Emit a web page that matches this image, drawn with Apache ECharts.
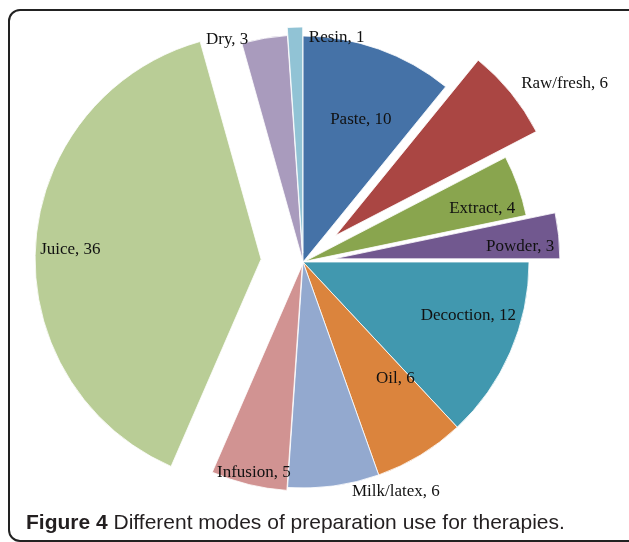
<!DOCTYPE html>
<html>
<head>
<meta charset="utf-8">
<script src="https://cdn.jsdelivr.net/npm/echarts@6/dist/echarts.min.js"></script>
<style>
  html, body { margin: 0; padding: 0; background: #fff; }
  #main { width: 629px; height: 542px; }
</style>
</head>
<body>
<div id="main"></div>
<script>
// modes of preparation, clockwise from 12 o'clock
var categories = ['Paste', 'Raw/fresh', 'Extract', 'Powder', 'Decoction', 'Oil', 'Milk/latex', 'Infusion', 'Juice', 'Dry', 'Resin'];
var counts = [10, 6, 4, 3, 12, 6, 6, 5, 36, 3, 1];

// styling only
var colors = ['#4572A7', '#AA4643', '#89A54E', '#71588F', '#4198AF', '#DB843D', '#93A9CF', '#D19392', '#B9CD96', '#A99BBD', '#91C3D5'];
var explode = [0, 42, 2, 31, 0, 0, 0, 3, 42, 1, 9];
var nudge = [[19, -33], [139, -79], [68, -14], [71, 0], [59, 7], [32, 17], [77, 115], [-21, 95], [-75, -2], [-56, -107], [38, -100]];

var offsets = [];
explode.forEach(function (o) { if (offsets.indexOf(o) < 0) offsets.push(o); });

var series = offsets.map(function (off) {
  return {
    type: 'pie',
    center: [303, 262],
    radius: 226,
    startAngle: 90,
    clockwise: true,
    avoidLabelOverlap: false,
    selectedMode: 'multiple',
    selectedOffset: off,
    animation: false,
    silent: true,
    emphasis: { disabled: true },
    labelLine: { show: false },
    labelLayout: function (p) {
      var n = nudge[p.dataIndex];
      return { dx: n[0], dy: n[1] };
    },
    data: categories.map(function (name, i) {
      var mine = explode[i] === off;
      return {
        name: name,
        value: counts[i],
        selected: mine && off > 0,
        itemStyle: mine
          ? { color: colors[i], borderColor: '#fff', borderWidth: 0.8 }
          : { color: 'rgba(0,0,0,0)', borderWidth: 0 },
        label: {
          show: mine,
          position: 'inside',
          formatter: '{b}, {c}',
          color: '#111',
          fontFamily: 'Liberation Serif',
          fontSize: 17
        }
      };
    })
  };
});

var myChart = echarts.init(document.getElementById('main'));
myChart.setOption({
  animation: false,
  title: {
    left: 21,
    top: 508,
    text: '{b|Figure 4} Different modes of preparation use for therapies.',
    textStyle: {
      fontFamily: 'Liberation Sans',
      fontSize: 21,
      fontWeight: 'normal',
      color: '#231f20',
      rich: {
        b: { fontFamily: 'Liberation Sans', fontSize: 21, fontWeight: 'bold', color: '#231f20' }
      }
    }
  },
  graphic: [{
    type: 'rect',
    silent: true,
    shape: { x: 9, y: 10, width: 640, height: 531, r: 11 },
    style: { fill: 'none', stroke: '#222', lineWidth: 2 }
  }],
  series: series
});
</script>
</body>
</html>
